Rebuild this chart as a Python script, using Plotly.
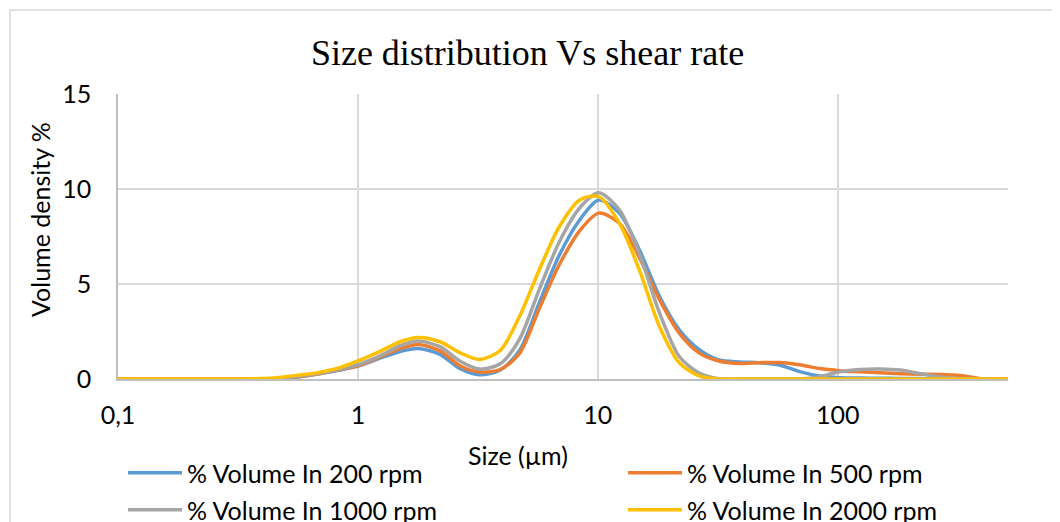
import plotly.graph_objects as go

sizes = [0.1, 0.2, 0.3, 0.4, 0.47, 0.57, 0.69, 0.84, 1.0, 1.23, 1.5, 1.78, 2.2, 2.66,
         3.22, 3.92, 4.72, 5.7, 6.9, 8.4, 10.1, 12.3, 14.9, 18.1, 21.9, 26.6, 32, 38.8,
         47.1, 57.2, 69.4, 84.1, 102, 124, 150, 182, 221, 268, 325, 395, 479, 513]

vol_200 = [0, 0, 0, 0, 0.03, 0.12, 0.28, 0.47, 0.68, 1.09, 1.45, 1.61, 1.30, 0.55,
           0.22, 0.47, 1.50, 4.0, 6.5, 8.37, 9.42, 8.73, 6.8, 4.33, 2.58, 1.53, 1.0, 0.9,
           0.86, 0.74, 0.39, 0.16, 0.07, 0.05, 0.04, 0.03, 0.02, 0.01, 0, 0, 0, 0]

vol_500 = [0, 0, 0, 0, 0.03, 0.12, 0.28, 0.50, 0.70, 1.15, 1.60, 1.82, 1.48, 0.70,
           0.37, 0.50, 1.35, 3.7, 6.0, 7.8, 8.73, 8.2, 6.4, 4.16, 2.4, 1.35, 0.95, 0.82,
           0.86, 0.87, 0.75, 0.55, 0.44, 0.38, 0.33, 0.28, 0.25, 0.24, 0.18, 0.02, 0, 0]

vol_1000 = [0, 0, 0, 0, 0.04, 0.14, 0.30, 0.52, 0.75, 1.20, 1.75, 2.0, 1.70, 0.95,
            0.52, 0.80, 2.1, 4.7, 7.2, 9.0, 9.8, 8.9, 6.6, 3.47, 1.17, 0.30, 0.02, 0,
            0, 0, 0, 0.12, 0.38, 0.50, 0.53, 0.47, 0.28, 0.10, 0.02, 0, 0, 0]

vol_2000 = [0, 0, 0, 0.02, 0.08, 0.21, 0.35, 0.60, 0.95, 1.44, 1.96, 2.19, 1.96, 1.39,
            1.03, 1.5, 3.3, 5.74, 8.0, 9.42, 9.6, 8.2, 5.74, 2.75, 0.84, 0.15, 0, 0,
            0, 0, 0, 0, 0, 0, 0, 0, 0, 0, 0, 0, 0, 0]

series_names = ["% Volume In 200 rpm", "% Volume In 500 rpm",
                "% Volume In 1000 rpm", "% Volume In 2000 rpm"]
series_values = [vol_200, vol_500, vol_1000, vol_2000]
series_colors = ["#5B9BD5", "#ED7D31", "#A5A5A5", "#FFC000"]
series_legend = ["legend", "legend2", "legend3", "legend4"]

x_tickvals = [0.1, 1, 10, 100]
x_ticktext = ["0,1", "1", "10", "100"]
y_tickvals = [0, 5, 10, 15]

FONT = "Lato, Carlito, Calibri, sans-serif"
FS = 25

# page offset (body margin of the html page)
OFF = 8
W, H = 1060, 522
# desired on-screen plot area
SX0, SX1, SY0, SY1 = 118, 1008, 94, 379
L = SX0 - OFF
T = SY0 - OFF
R = W - (SX1 - OFF)
B = H - (SY1 - OFF)
pw, ph = W - L - R, H - T - B

def px_x(p):  # screen px -> paper x
    return (p - SX0) / pw

def px_y(p):  # screen px -> paper y
    return (SY1 - p) / ph

def cx(p):  # screen px -> container x
    return (p - OFF) / W

def cy(p):  # screen px -> container y
    return 1 - (p - OFF) / H

fig = go.Figure()
for name, vals, col, lg in zip(series_names, series_values, series_colors, series_legend):
    fig.add_trace(go.Scatter(
        x=sizes, y=vals, name=name, mode="lines",
        line=dict(color=col, width=3.5, shape="spline", smoothing=0.8),
        legend=lg,
    ))

leg_common = dict(orientation="h", xref="container", yref="container",
                  xanchor="left", yanchor="middle", itemwidth=54,
                  font=dict(family=FONT, size=FS, color="#000000"),
                  bgcolor="rgba(0,0,0,0)")

fig.update_layout(
    width=W, height=H,
    margin=dict(l=L, r=R, t=T, b=B, pad=0, autoexpand=False),
    paper_bgcolor="white", plot_bgcolor="white",
    font=dict(family=FONT, size=FS, color="#000000"),
    title=dict(text="Size distribution Vs shear rate",
               font=dict(family="Liberation Serif, Times New Roman, serif", size=36, color="#000000"),
               x=cx(527.5), xref="container", xanchor="center",
               y=cy(52), yref="container", yanchor="middle"),
    xaxis=dict(type="log", range=[-1, 2.71], tickvals=x_tickvals, ticktext=x_ticktext,
               showgrid=True, gridcolor="#d9d9d9", gridwidth=1.5,
               showline=True, linecolor="#bfbfbf", linewidth=1.5,
               ticks="", ticklabelstandoff=13, automargin=False,
               tickfont=dict(family=FONT, size=FS, color="#000000"), zeroline=False),
    yaxis=dict(range=[0, 15], tickvals=y_tickvals,
               showgrid=True, gridcolor="#d9d9d9", gridwidth=1.5,
               showline=True, linecolor="#bfbfbf", linewidth=1.5,
               ticks="", ticklabelstandoff=20, automargin=False,
               tickfont=dict(family=FONT, size=FS, color="#000000"), zeroline=False),
    legend=dict(x=cx(123), y=cy(473), **leg_common),
    legend2=dict(x=cx(623), y=cy(473), **leg_common),
    legend3=dict(x=cx(123), y=cy(510), **leg_common),
    legend4=dict(x=cx(623), y=cy(510), **leg_common),
    showlegend=True,
)

fig.add_annotation(text="Size (µm)", xref="paper", yref="paper", x=px_x(518), y=px_y(455),
                   xanchor="center", yanchor="middle", showarrow=False,
                   font=dict(family=FONT, size=FS, color="#000000"))
fig.add_annotation(text="Volume density %", xref="paper", yref="paper", x=px_x(40), y=px_y(220),
                   xanchor="center", yanchor="middle", showarrow=False, textangle=-90,
                   font=dict(family=FONT, size=FS, color="#000000"))

fig.add_shape(type="rect", xref="paper", yref="paper",
              x0=px_x(10), x1=px_x(1090), y0=px_y(560), y1=px_y(10),
              line=dict(color="#d9d9d9", width=1.5), fillcolor="rgba(0,0,0,0)", layer="below")

fig.write_html("out.html")
